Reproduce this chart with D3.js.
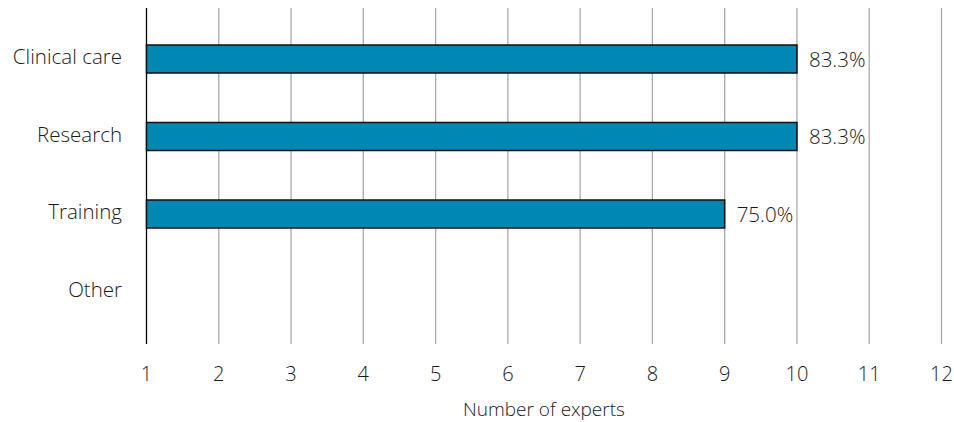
<!DOCTYPE html>
<html><head><meta charset="utf-8">
<script src="https://cdn.jsdelivr.net/npm/d3@7"></script>
<style>body{margin:0;background:#fff}text{font-family:"Open Sans",Lato,sans-serif;font-weight:300;fill:#1a1a1a}</style>
</head><body><svg id="c" width="954" height="422"></svg>
<script>
const categories = ["Clinical care","Research","Training","Other"];
const values = [10,10,9,null];
const labels = ["83.3%","83.3%","75.0%",""];
const ticks = [1,2,3,4,5,6,7,8,9,10,11,12];

const svg = d3.select("#c");
const x = d3.scaleLinear().domain([1,12]).range([146.5,941.5]);
const y = d3.scalePoint().domain(categories).range([59,291.5]);
const plotTop = 8, plotBottom = 344, bh = 28;

svg.append("g").selectAll("line").data(ticks.slice(1)).join("line")
  .attr("x1",d=>x(d)).attr("x2",d=>x(d)).attr("y1",plotTop).attr("y2",plotBottom)
  .attr("stroke","#aaa").attr("stroke-width",1.3);
svg.append("line").attr("x1",x(1)).attr("x2",x(1)).attr("y1",plotTop).attr("y2",plotBottom)
  .attr("stroke","#000").attr("stroke-width",1.3);

svg.append("g").selectAll("text").data(ticks).join("text")
  .attr("x",d=>x(d)).attr("y",381).attr("text-anchor","middle")
  .attr("font-size",20).text(d=>d);

svg.append("g").selectAll("text").data(categories).join("text")
  .attr("x",122).attr("y",d=>y(d)+5).attr("text-anchor","end")
  .attr("font-size",20.5).text(d=>d);

const rows = categories.map((c,i)=>({c,v:values[i],l:labels[i]})).filter(d=>d.v!=null);
svg.append("g").selectAll("rect").data(rows).join("rect")
  .attr("x",x(1)).attr("y",d=>y(d.c)-bh/2).attr("width",d=>x(d.v)-x(1)).attr("height",bh)
  .attr("fill","#0087B4").attr("stroke","#111").attr("stroke-width",1.5);
svg.append("g").selectAll("text").data(rows).join("text")
  .attr("x",d=>x(d.v)+12).attr("y",d=>y(d.c)+7.5)
  .attr("font-size",20.5).text(d=>d.l);

svg.append("text").attr("x",(x(1)+x(12))/2).attr("y",416).attr("text-anchor","middle")
  .attr("font-size",19).text("Number of experts");
</script></body></html>
